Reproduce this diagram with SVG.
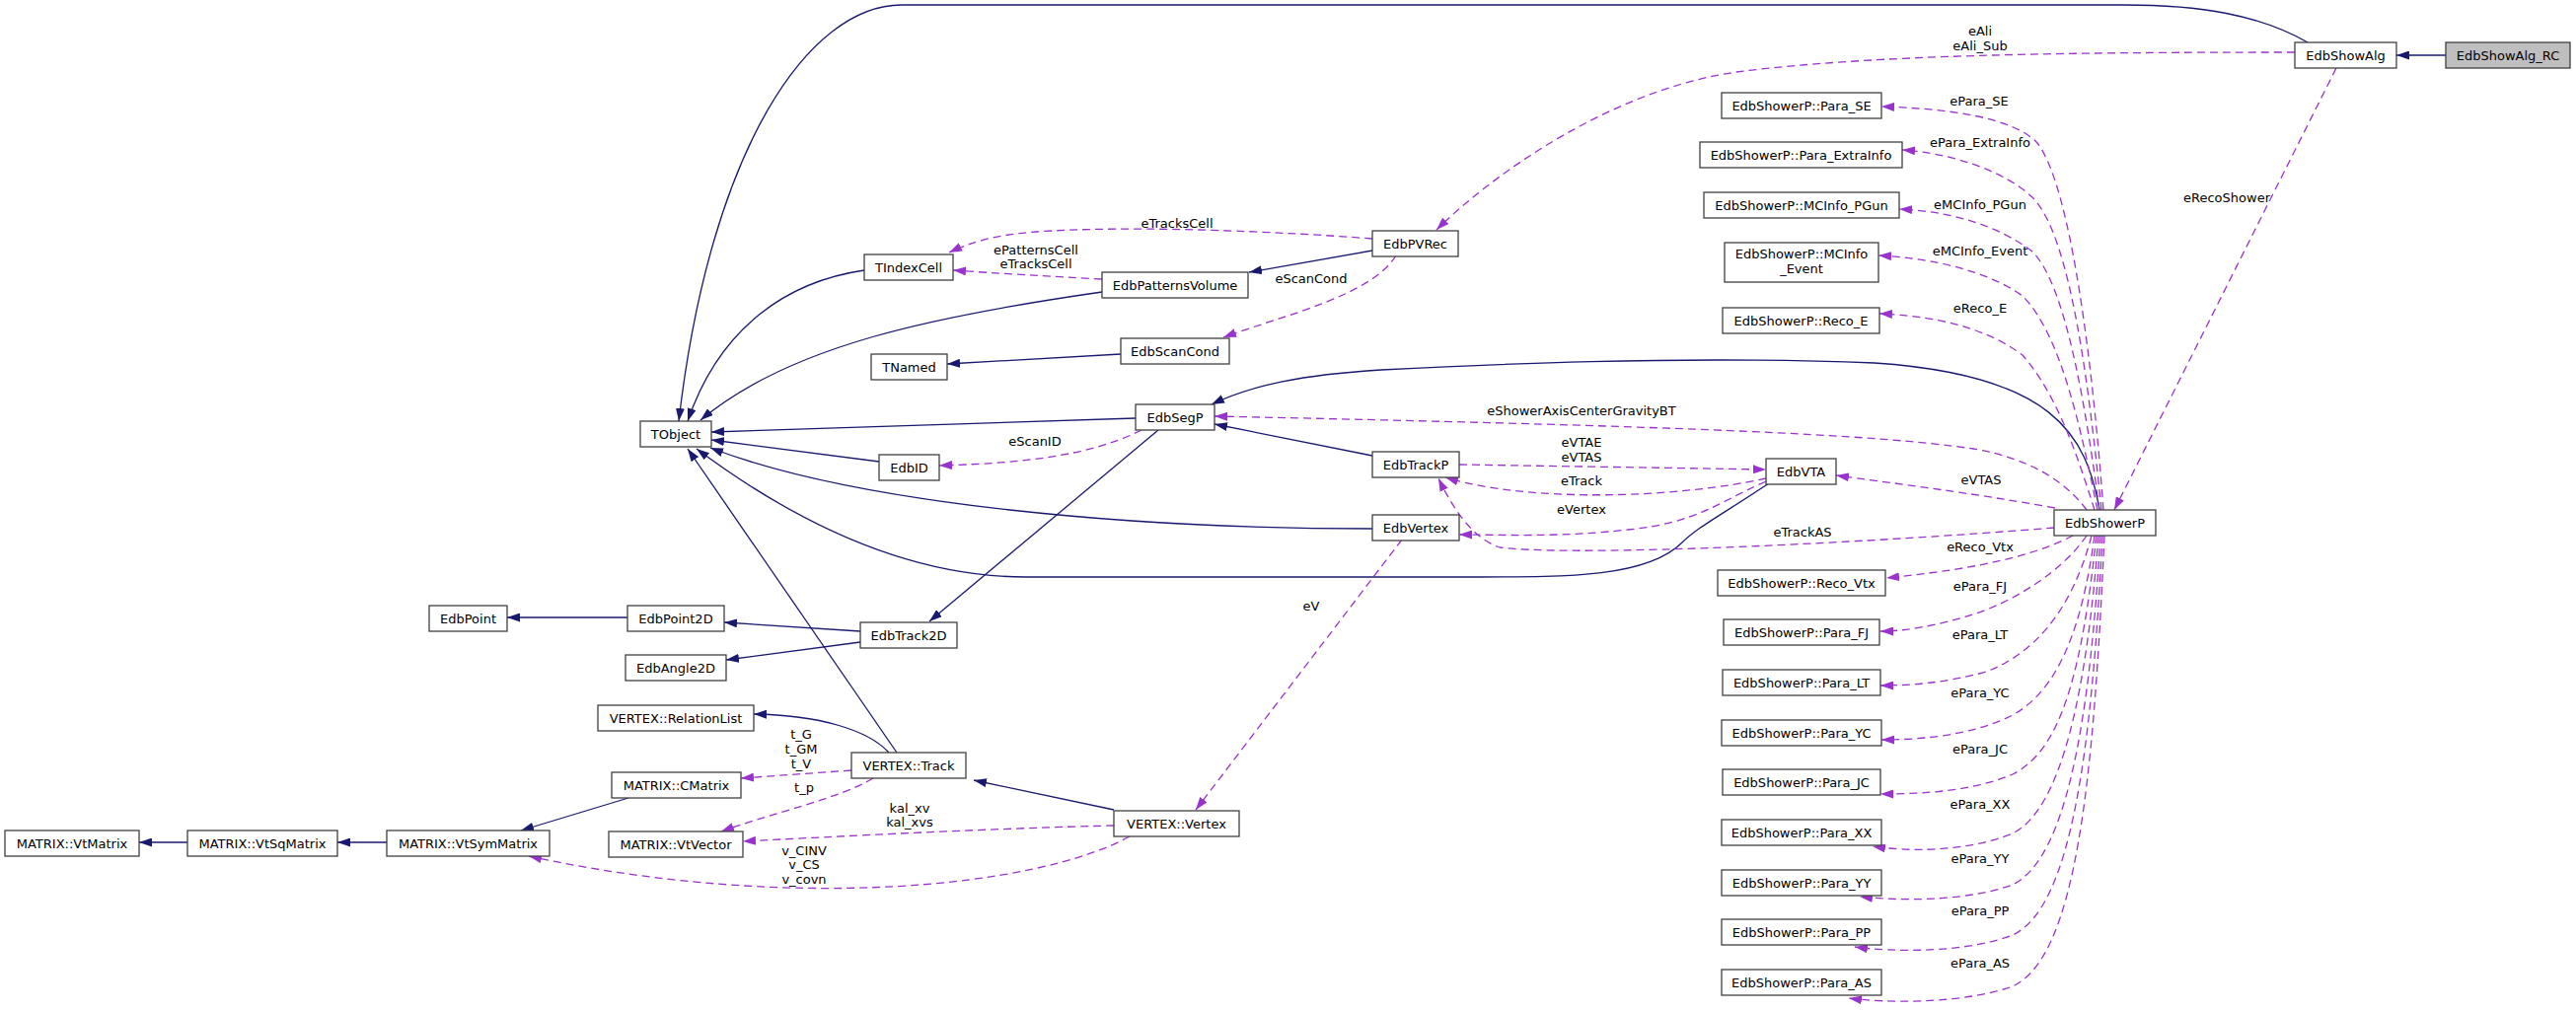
<svg xmlns="http://www.w3.org/2000/svg" width="2611" height="1025" viewBox="0 0 2611 1025">
<style>
.n rect{fill:#ffffff;stroke:#404040;stroke-width:1.3}
.n.hl rect{fill:#bfbfbf}
text{font-family:"DejaVu Sans","Liberation Sans",sans-serif;font-size:13px;fill:#000000}
.n text{text-anchor:middle}
.lb{text-anchor:middle}
.s{fill:none;stroke:#191970;stroke-width:1.3;marker-end:url(#ab)}
.d{fill:none;stroke:#9a32cd;stroke-width:1.3;stroke-dasharray:8,5;marker-end:url(#ap)}
</style>
<defs>
<marker id="ab" viewBox="0 0 13 9" refX="13" refY="4.5" markerWidth="13" markerHeight="9" markerUnits="userSpaceOnUse" orient="auto"><path d="M0,0 L13,4.5 L0,9 z" fill="#191970"/></marker>
<marker id="ap" viewBox="0 0 13 9" refX="13" refY="4.5" markerWidth="13" markerHeight="9" markerUnits="userSpaceOnUse" orient="auto"><path d="M0,0 L13,4.5 L0,9 z" fill="#9a32cd"/></marker>
</defs>
<rect width="2611" height="1025" fill="#ffffff"/>
<g id="edges">
<path class="s" d="M2479,56 L2429,56"/>
<path class="s" d="M2339,43 C2290,15 2230,5 2153,5 L914,5 C820,5 720,150 688,427"/>
<path class="s" d="M876,274 C800,285 730,330 697,427"/>
<path class="s" d="M1117,296 C950,320 800,350 710,426"/>
<path class="s" d="M1136,359 L960,369"/>
<path class="s" d="M1151,424 L721,438"/>
<path class="s" d="M891,468 L721,446"/>
<path class="s" d="M1391,536 C1150,536 870,512 720,454"/>
<path class="s" d="M1793,490 C1740,525 1720,535 1705,550 C1670,585 1590,585 1500,585 L1040,585 C930,585 820,540 706,455"/>
<path class="s" d="M909,763 L697,455"/>
<path class="s" d="M1174,436 L942,630"/>
<path class="s" d="M872,640 L734,631"/>
<path class="s" d="M872,651 L736,669"/>
<path class="s" d="M636,626 L514,626"/>
<path class="s" d="M1391,462 L1231,430"/>
<path class="s" d="M2128,517 C2115,440 2080,380 1900,368 C1700,360 1500,370 1400,375 C1320,380 1270,390 1228,410"/>
<path class="s" d="M1391,254 L1266,276"/>
<path class="s" d="M1129,821 L987,791"/>
<path class="s" d="M901,763 C880,740 830,725 764,724"/>
<path class="s" d="M637,809 L528,842"/>
<path class="s" d="M392,854 L342,854"/>
<path class="s" d="M190,854 L141,854"/>

<path class="d" d="M2326,53 C2100,53 1900,55 1760,73 C1640,90 1520,170 1456,233"/>
<path class="d" d="M1391,242 C1300,235 1150,228 1050,235 C1010,238 985,245 962,256"/>
<path class="d" d="M1117,283 C1060,280 1010,277 966,274"/>
<path class="d" d="M1415,259 C1390,300 1300,320 1240,342"/>
<path class="d" d="M1157,436 C1100,465 1020,470 952,472"/>
<path class="d" d="M2115,517 C2095,490 2060,465 2000,455 C1900,440 1700,432 1231,422"/>
<path class="d" d="M1479,471 L1790,476"/>
<path class="d" d="M1790,485 C1700,505 1550,510 1465,484"/>
<path class="d" d="M1790,488 C1740,510 1720,530 1650,537 C1580,545 1520,542 1479,542"/>
<path class="d" d="M2082,535 C1900,550 1600,565 1520,555 C1490,545 1470,510 1458,485"/>
<path class="d" d="M2083,515 C2000,500 1920,490 1861,482"/>
<path class="d" d="M1421,547 L1212,821"/>
<path class="d" d="M1129,837 C1000,840 850,848 753,853"/>
<path class="d" d="M1145,848 C1050,900 800,925 536,868"/>
<path class="d" d="M863,781 L751,789"/>
<path class="d" d="M885,789 C850,810 780,825 731,843"/>
<path class="d" d="M2368,69 L2143,517"/>

<path class="d" d="M2132,517 C2122,380 2100,190 2065,145 C2040,118 1970,110 1907,108"/>
<path class="d" d="M2130,517 C2118,400 2100,240 2060,200 C2030,172 1975,155 1928,152"/>
<path class="d" d="M2128,517 C2115,420 2095,290 2060,255 C2020,225 1970,214 1925,212"/>
<path class="d" d="M2126,517 C2110,440 2090,340 2050,300 C2015,275 1960,262 1904,259"/>
<path class="d" d="M2123,517 C2105,460 2085,400 2050,360 C2010,330 1955,320 1905,318"/>

<path class="d" d="M2101,543 C2050,570 1970,580 1912,586"/>
<path class="d" d="M2115,543 C2090,580 2040,610 2000,623 C1960,635 1930,640 1906,640"/>
<path class="d" d="M2120,543 C2100,620 2060,665 2010,682 C1970,692 1940,695 1906,695"/>
<path class="d" d="M2123,543 C2110,640 2085,700 2040,725 C2000,745 1950,750 1907,750"/>
<path class="d" d="M2125,543 C2110,680 2090,760 2040,785 C2000,802 1950,805 1906,805"/>
<path class="d" d="M2127,543 C2115,700 2090,820 2040,845 C1990,865 1930,863 1898,858"/>
<path class="d" d="M2129,543 C2118,730 2095,870 2040,897 C1990,915 1920,913 1885,909"/>
<path class="d" d="M2131,543 C2120,760 2100,920 2040,948 C1990,967 1915,965 1880,960"/>
<path class="d" d="M2133,543 C2122,790 2105,970 2040,1000 C1990,1018 1910,1017 1874,1012"/>

<text class="lb" x="2007" y="36">eAli</text>
<text class="lb" x="2007" y="51">eAli_Sub</text>
<text class="lb" x="1193" y="231">eTracksCell</text>
<text class="lb" x="1050" y="258">ePatternsCell</text>
<text class="lb" x="1050" y="272">eTracksCell</text>
<text class="lb" x="1329" y="287">eScanCond</text>
<text class="lb" x="1049" y="452">eScanID</text>
<text class="lb" x="1603" y="421">eShowerAxisCenterGravityBT</text>
<text class="lb" x="1603" y="453">eVTAE</text>
<text class="lb" x="1603" y="468">eVTAS</text>
<text class="lb" x="1603" y="492">eTrack</text>
<text class="lb" x="1603" y="521">eVertex</text>
<text class="lb" x="1827" y="544">eTrackAS</text>
<text class="lb" x="2008" y="491">eVTAS</text>
<text class="lb" x="1329" y="619">eV</text>
<text class="lb" x="922" y="824">kal_xv</text>
<text class="lb" x="922" y="838">kal_xvs</text>
<text class="lb" x="815" y="867">v_CINV</text>
<text class="lb" x="815" y="881">v_CS</text>
<text class="lb" x="815" y="896">v_covn</text>
<text class="lb" x="812" y="749">t_G</text>
<text class="lb" x="812" y="764">t_GM</text>
<text class="lb" x="812" y="779">t_V</text>
<text class="lb" x="815" y="803">t_p</text>
<text class="lb" x="2257" y="205">eRecoShower</text>
<text class="lb" x="2006" y="107">ePara_SE</text>
<text class="lb" x="2007" y="149">ePara_ExtraInfo</text>
<text class="lb" x="2007" y="212">eMCInfo_PGun</text>
<text class="lb" x="2007" y="259">eMCInfo_Event</text>
<text class="lb" x="2007" y="317">eReco_E</text>
<text class="lb" x="2007" y="559">eReco_Vtx</text>
<text class="lb" x="2007" y="599">ePara_FJ</text>
<text class="lb" x="2007" y="648">ePara_LT</text>
<text class="lb" x="2007" y="707">ePara_YC</text>
<text class="lb" x="2007" y="764">ePara_JC</text>
<text class="lb" x="2007" y="820">ePara_XX</text>
<text class="lb" x="2007" y="875">ePara_YY</text>
<text class="lb" x="2007" y="928">ePara_PP</text>
<text class="lb" x="2007" y="981">ePara_AS</text>
</g>

<g id="EdbShowAlg_RC" class="n hl"><rect x="2479" y="43" width="126" height="26"/><text x="2542" y="60.5">EdbShowAlg_RC</text></g>
<g id="EdbShowAlg" class="n"><rect x="2326" y="43" width="103" height="26"/><text x="2377.5" y="60.5">EdbShowAlg</text></g>
<g id="TObject" class="n"><rect x="649" y="427" width="72" height="26"/><text x="685" y="444.5">TObject</text></g>
<g id="EdbPVRec" class="n"><rect x="1391" y="234" width="87" height="26"/><text x="1434.5" y="251.5">EdbPVRec</text></g>
<g id="EdbPatternsVolume" class="n"><rect x="1117" y="276" width="148" height="26"/><text x="1191" y="293.5">EdbPatternsVolume</text></g>
<g id="TIndexCell" class="n"><rect x="876" y="258" width="90" height="26"/><text x="921" y="275.5">TIndexCell</text></g>
<g id="EdbScanCond" class="n"><rect x="1136" y="343" width="110" height="26"/><text x="1191" y="360.5">EdbScanCond</text></g>
<g id="TNamed" class="n"><rect x="883" y="359" width="77" height="26"/><text x="921.5" y="376.5">TNamed</text></g>
<g id="EdbSegP" class="n"><rect x="1151" y="410" width="80" height="26"/><text x="1191" y="427.5">EdbSegP</text></g>
<g id="EdbID" class="n"><rect x="891" y="461" width="61" height="26"/><text x="921.5" y="478.5">EdbID</text></g>
<g id="EdbTrackP" class="n"><rect x="1391" y="458" width="88" height="26"/><text x="1435" y="475.5">EdbTrackP</text></g>
<g id="EdbVertex" class="n"><rect x="1391" y="522" width="88" height="26"/><text x="1435" y="539.5">EdbVertex</text></g>
<g id="EdbVTA" class="n"><rect x="1790" y="465" width="71" height="26"/><text x="1825.5" y="482.5">EdbVTA</text></g>
<g id="EdbShowerP" class="n"><rect x="2082" y="517" width="103" height="26"/><text x="2133.5" y="534.5">EdbShowerP</text></g>
<g id="EdbTrack2D" class="n"><rect x="872" y="631" width="98" height="26"/><text x="921" y="648.5">EdbTrack2D</text></g>
<g id="EdbPoint2D" class="n"><rect x="636" y="614" width="98" height="26"/><text x="685" y="631.5">EdbPoint2D</text></g>
<g id="EdbPoint" class="n"><rect x="435" y="614" width="79" height="26"/><text x="474.5" y="631.5">EdbPoint</text></g>
<g id="EdbAngle2D" class="n"><rect x="634" y="664" width="102" height="26"/><text x="685" y="681.5">EdbAngle2D</text></g>
<g id="VERTEX_RelationList" class="n"><rect x="606" y="715" width="158" height="26"/><text x="685" y="732.5">VERTEX::RelationList</text></g>
<g id="MATRIX_CMatrix" class="n"><rect x="620" y="783" width="131" height="26"/><text x="685.5" y="800.5">MATRIX::CMatrix</text></g>
<g id="VERTEX_Track" class="n"><rect x="863" y="763" width="116" height="26"/><text x="921" y="780.5">VERTEX::Track</text></g>
<g id="MATRIX_VtVector" class="n"><rect x="617" y="843" width="136" height="26"/><text x="685" y="860.5">MATRIX::VtVector</text></g>
<g id="MATRIX_VtSymMatrix" class="n"><rect x="392" y="842" width="165" height="26"/><text x="474.5" y="859.5">MATRIX::VtSymMatrix</text></g>
<g id="MATRIX_VtSqMatrix" class="n"><rect x="190" y="842" width="152" height="26"/><text x="266" y="859.5">MATRIX::VtSqMatrix</text></g>
<g id="MATRIX_VtMatrix" class="n"><rect x="5" y="842" width="136" height="26"/><text x="73" y="859.5">MATRIX::VtMatrix</text></g>
<g id="VERTEX_Vertex" class="n"><rect x="1129" y="822" width="127" height="26"/><text x="1192.5" y="839.5">VERTEX::Vertex</text></g>
<g id="Para_SE" class="n"><rect x="1745" y="94" width="162" height="26"/><text x="1826" y="111.5">EdbShowerP::Para_SE</text></g>
<g id="Para_ExtraInfo" class="n"><rect x="1723" y="144" width="205" height="26"/><text x="1825.5" y="161.5">EdbShowerP::Para_ExtraInfo</text></g>
<g id="MCInfo_PGun" class="n"><rect x="1727" y="195" width="198" height="26"/><text x="1826" y="212.5">EdbShowerP::MCInfo_PGun</text></g>
<g id="MCInfo_Event" class="n"><rect x="1748" y="246" width="156" height="40"/><text x="1826" y="262">EdbShowerP::MCInfo</text><text x="1826" y="277">_Event</text></g>
<g id="Reco_E" class="n"><rect x="1746" y="312" width="159" height="26"/><text x="1825.5" y="329.5">EdbShowerP::Reco_E</text></g>
<g id="Reco_Vtx" class="n"><rect x="1741" y="578" width="170" height="26"/><text x="1826" y="595.5">EdbShowerP::Reco_Vtx</text></g>
<g id="Para_FJ" class="n"><rect x="1747" y="628" width="158" height="26"/><text x="1826" y="645.5">EdbShowerP::Para_FJ</text></g>
<g id="Para_LT" class="n"><rect x="1746" y="679" width="160" height="26"/><text x="1826" y="696.5">EdbShowerP::Para_LT</text></g>
<g id="Para_YC" class="n"><rect x="1745" y="730" width="162" height="26"/><text x="1826" y="747.5">EdbShowerP::Para_YC</text></g>
<g id="Para_JC" class="n"><rect x="1746" y="780" width="160" height="26"/><text x="1826" y="797.5">EdbShowerP::Para_JC</text></g>
<g id="Para_XX" class="n"><rect x="1745" y="831" width="162" height="26"/><text x="1826" y="848.5">EdbShowerP::Para_XX</text></g>
<g id="Para_YY" class="n"><rect x="1745" y="882" width="162" height="26"/><text x="1826" y="899.5">EdbShowerP::Para_YY</text></g>
<g id="Para_PP" class="n"><rect x="1745" y="932" width="162" height="26"/><text x="1826" y="949.5">EdbShowerP::Para_PP</text></g>
<g id="Para_AS" class="n"><rect x="1745" y="983" width="162" height="26"/><text x="1826" y="1000.5">EdbShowerP::Para_AS</text></g>
</svg>
